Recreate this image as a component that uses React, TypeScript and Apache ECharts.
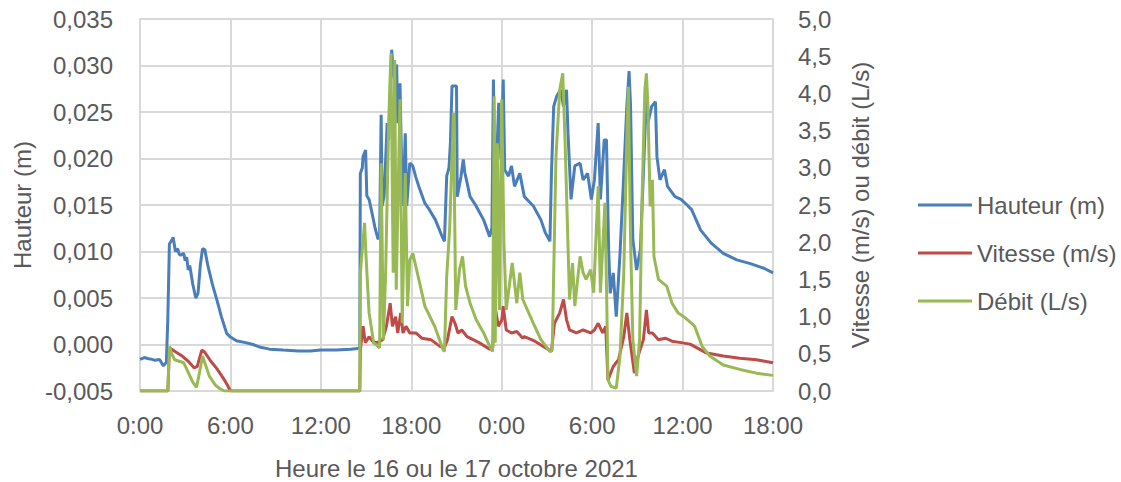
import React, { useEffect, useRef } from "react";
import * as echarts from "echarts";

// Time in hours since 16 Oct 2021 0:00
const hauteurT = [0, 0.3, 0.5, 0.8, 1.0, 1.3, 1.55, 1.75, 1.85, 1.95, 2.1, 2.2, 2.35, 2.5, 2.6, 2.7, 2.9, 3.0, 3.1, 3.2, 3.3, 3.5, 3.7, 3.85, 4.0, 4.15, 4.3, 4.5, 4.8, 5.1, 5.4, 5.75, 6.0, 6.4, 7.0, 7.5, 8.0, 8.6, 9.5, 10.5, 11.3, 12.0, 13.0, 14.0, 14.58,
  14.62, 14.75, 14.8, 14.97, 15.05, 15.2, 15.4, 15.6, 15.8, 15.9, 16.0, 16.07, 16.2, 16.4, 16.5, 16.7, 16.8, 16.9, 17.03, 17.1, 17.25, 17.35, 17.45, 17.6, 17.7, 17.9, 18.1, 18.3, 18.5, 18.9, 19.2, 19.6, 20.0, 20.2,
  20.35, 20.5, 20.6, 20.7, 21.0, 21.05, 21.3, 21.45, 21.55, 21.7, 21.9, 22.3, 22.8, 23.2, 23.35, 23.45, 23.55, 23.8, 23.95, 24.1, 24.2, 24.45, 24.65, 24.85, 25.2, 25.5, 26.1, 26.6, 26.9, 27.2,
  27.3, 27.45, 27.65, 27.9, 28.1, 28.3, 28.4, 28.6, 28.85, 29.2, 29.4, 29.7, 29.95, 30.15, 30.4, 30.55, 30.8, 30.95, 31.1, 31.2, 31.4, 31.6, 31.85, 32.05, 32.3, 32.45, 32.55, 32.7, 32.95, 33.2, 33.4, 33.6, 33.7, 33.95, 34.2, 34.3, 34.5, 34.8, 35.0, 35.5, 35.9, 36.3, 36.6, 37.2, 37.9, 38.7, 39.6, 40.5, 41.4, 42.0];
const hauteurV = [-0.0016, -0.0014, -0.0015, -0.0016, -0.0017, -0.0016, -0.0023, -0.0019, 0.003, 0.0108, 0.0112, 0.0115, 0.01, 0.0103, 0.0097, 0.0096, 0.0098, 0.009, 0.0094, 0.008, 0.0085, 0.0065, 0.005, 0.0055, 0.0085, 0.0103, 0.0102, 0.0085, 0.0065, 0.0048, 0.003, 0.0012, 0.0008, 0.0004, 0.0002, 0.0, -0.0003, -0.0005, -0.0006, -0.0007, -0.0007, -0.0006, -0.0006, -0.0005, -0.0004,
  0.0184, 0.019, 0.0202, 0.0209, 0.016, 0.0156, 0.0141, 0.0125, 0.0113, 0.0118, 0.0247, 0.0149, 0.016, 0.0238, 0.022, 0.0317, 0.0292, 0.0285, 0.0301, 0.0238, 0.0281, 0.02, 0.0149, 0.0227, 0.0149, 0.0195, 0.0192, 0.018, 0.017, 0.0152, 0.0145, 0.0134, 0.0118, 0.0111,
  0.0181, 0.019, 0.0218, 0.0278, 0.0278, 0.0159, 0.0181, 0.0199, 0.0185, 0.0174, 0.0159, 0.0149, 0.0134, 0.0116, 0.0125, 0.0285, 0.0145, 0.026, 0.02, 0.0285, 0.0188, 0.0181, 0.0192, 0.017, 0.0184, 0.0159, 0.0149, 0.0134, 0.012, 0.0111,
  0.0184, 0.0256, 0.0267, 0.0274, 0.0256, 0.0274, 0.0227, 0.0156, 0.0192, 0.0195, 0.0177, 0.0184, 0.0156, 0.0177, 0.0238, 0.0156, 0.022, 0.022, 0.01, 0.0055, 0.0077, 0.003, 0.0098, 0.0166, 0.0256, 0.0294, 0.0256, 0.0113, 0.008, 0.0102, 0.0184, 0.0267, 0.0238, 0.0256, 0.0261, 0.0202, 0.0177, 0.0188, 0.017, 0.0159, 0.0156, 0.015, 0.0145, 0.0123, 0.0109, 0.0098, 0.0091, 0.0087, 0.0082, 0.0077];

const vitesseT = [0, 1.85, 1.95, 2.1, 2.4, 2.8, 3.2, 3.6, 3.8, 4.1, 4.3, 4.7, 5.1, 5.5, 5.8, 6.0, 14.58,
  14.62, 14.8, 14.95, 15.2, 15.5, 15.9, 16.1, 16.35, 16.6, 16.75, 16.96, 17.1, 17.3, 17.45, 17.65, 17.9, 18.3, 18.7, 19.3, 19.9, 20.2,
  20.4, 20.7, 20.9, 21.1, 21.35, 21.7, 22.5, 23.2, 23.4, 23.55, 23.78, 24.0, 24.1, 24.3, 24.65, 25.0, 25.4, 25.5, 26.2, 26.9, 27.3,
  27.5, 27.85, 28.1, 28.3, 28.5, 28.95, 29.4, 29.9, 30.15, 30.4, 30.7, 30.9, 31.05, 31.4, 31.75, 32.1, 32.3, 32.5, 32.8, 33.05, 33.4, 33.6, 33.75, 34.0, 34.4, 34.85, 35.3, 35.9, 36.5, 37.6, 38.7, 39.8, 40.9, 42.0];
const vitesseV = [0, 0, 0.58, 0.56, 0.52, 0.47, 0.4, 0.31, 0.33, 0.55, 0.52, 0.4, 0.3, 0.18, 0.08, 0, 0,
  0.55, 0.87, 0.65, 0.73, 0.65, 0.66, 0.69, 0.87, 1.18, 0.87, 1.0, 0.78, 1.05, 0.78, 0.87, 0.78, 0.78, 0.71, 0.69, 0.6, 0.58,
  0.69, 1.0, 0.91, 0.78, 0.82, 0.73, 0.65, 0.56, 0.58, 1.14, 0.87, 0.95, 1.14, 0.82, 0.78, 0.8, 0.71, 0.73, 0.67, 0.58, 0.53,
  0.91, 1.05, 1.23, 0.96, 0.82, 0.78, 0.82, 0.78, 0.82, 0.91, 0.78, 0.87, 0.15, 0.33, 0.42, 0.73, 1.05, 0.69, 0.24, 0.47, 0.69, 1.09, 0.78, 0.78, 0.69, 0.71, 0.67, 0.65, 0.63, 0.51, 0.47, 0.44, 0.42, 0.38];

const debitT = [0, 1.85, 1.95, 2.1, 2.3, 2.6, 2.9, 3.2, 3.5, 3.75, 3.95, 4.15, 4.35, 4.6, 5.0, 5.3, 5.6, 14.58,
  14.62, 14.9, 15.0, 15.2, 15.5, 15.9, 16.0, 16.15, 16.3, 16.5, 16.65, 16.8, 16.9, 17.0, 17.25, 17.4, 17.6, 17.75, 17.9, 18.1, 18.5, 18.9, 19.55, 20.1, 20.2,
  20.35, 20.55, 20.8, 20.95, 21.2, 21.4, 21.6, 21.9, 22.3, 22.8, 23.2, 23.4, 23.5, 23.57, 23.7, 23.85, 24.0, 24.15, 24.3, 24.5, 24.7, 25.0, 25.2, 25.4, 26.1, 26.6, 27.2,
  27.35, 27.6, 27.85, 28.05, 28.2, 28.5, 28.7, 28.85, 29.2, 29.4, 29.6, 29.9, 30.1, 30.4, 30.55, 30.85, 30.97, 31.05, 31.25, 31.6, 31.85, 32.1, 32.3, 32.4, 32.55, 32.7, 32.95, 33.15, 33.3, 33.5, 33.6, 33.7, 33.85, 34.0, 34.1, 34.4, 34.7, 34.95, 35.3, 35.7, 36.2, 36.6, 36.8, 37.3, 37.8, 38.7, 39.8, 40.9, 42.0];
const debitV = [0, 0, 0.6, 0.5, 0.42, 0.4, 0.38, 0.25, 0.12, 0.05, 0.25, 0.47, 0.35, 0.2, 0.08, 0.03, 0, 0,
  1.59, 2.26, 1.8, 1.05, 0.65, 0.58, 3.06, 0.69, 1.6, 3.6, 4.54, 1.59, 4.45, 1.36, 3.92, 0.91, 2.93, 1.14, 1.76, 1.85, 1.5, 1.14, 0.87, 0.56, 0.53,
  1.54, 2.2, 3.74, 1.09, 1.63, 1.81, 1.41, 1.18, 0.96, 0.78, 0.6, 0.53, 3.96, 0.65, 3.33, 1.09, 3.92, 1.99, 1.09, 1.41, 1.72, 1.18, 1.59, 1.23, 0.91, 0.69, 0.53,
  0.55, 3.15, 4.05, 4.27, 3.38, 1.23, 1.72, 1.14, 1.81, 1.59, 1.5, 1.63, 1.32, 2.75, 1.32, 2.53, 1.2, 0.15, 0.06, 0.04, 0.47, 1.59, 3.38, 4.09, 2.03, 0.69, 0.2, 0.69, 2.48, 4.05, 4.27, 3.83, 2.48, 2.84, 1.81, 1.5, 1.45, 1.41, 1.18, 1.05, 0.98, 0.91, 0.87, 0.6, 0.47, 0.35, 0.29, 0.24, 0.21];

const seriesNames = ["Hauteur (m)", "Vitesse (m/s)", "Débit (L/s)"];
const seriesColors = ["#4A7EBB", "#BE4B48", "#98B954"];

const zip = (t: number[], v: number[]) => t.map((x, i) => [x, v[i]]);

const FONT = "'Liberation Sans', Arial, sans-serif";
const TXT = "#595959";
const GRID = "#D9D9D9";

export default function App() {
  const ref = useRef<HTMLDivElement>(null);
  useEffect(() => {
    const chart = echarts.init(ref.current!, null, { renderer: "svg" });
    const lineW = 3;
    chart.setOption({
      animation: false,
      backgroundColor: "#ffffff",
      textStyle: { fontFamily: FONT },
      grid: { left: 140, right: 348, top: 19, bottom: 91, outerBoundsMode: "none" },
      legend: {
        orient: "vertical",
        left: 913,
        top: 188,
        icon: "rect",
        itemWidth: 54,
        itemHeight: 3,
        itemGap: 24,
        textStyle: { fontSize: 24, color: TXT, fontFamily: FONT, lineHeight: 24 },
        data: seriesNames,
      },
      xAxis: {
        type: "value",
        min: 0,
        max: 42,
        interval: 6,
        name: "Heure le 16 ou le 17 octobre 2021",
        nameLocation: "middle",
        nameGap: 65,
        nameTextStyle: { fontSize: 24, color: TXT, fontFamily: FONT },
        axisLine: { show: true, lineStyle: { color: GRID, width: 2 } },
        axisTick: { show: true, length: 6, lineStyle: { color: GRID, width: 2 } },
        axisLabel: { color: TXT, fontSize: 24, fontFamily: FONT, margin: 22, formatter: (v: number) => `${v % 24}:00` },
        splitLine: { show: true, lineStyle: { color: GRID, width: 2 } },
      },
      yAxis: [
        {
          type: "value",
          min: -0.005,
          max: 0.035,
          interval: 0.005,
          name: "Hauteur (m)",
          nameLocation: "middle",
          nameRotate: 90,
          nameGap: 103,
          nameTextStyle: { fontSize: 24, color: TXT, fontFamily: FONT },
          axisLine: { show: true, lineStyle: { color: GRID, width: 2 } },
          axisTick: { show: false },
          axisLabel: { color: TXT, fontSize: 24, fontFamily: FONT, margin: 27, formatter: (v: number) => v.toFixed(3).replace(".", ",") },
          splitLine: { show: true, lineStyle: { color: GRID, width: 2 } },
        },
        {
          type: "value",
          min: 0,
          max: 5,
          interval: 0.5,
          position: "right",
          name: "Vitesse (m/s) ou débit (L/s)",
          nameLocation: "middle",
          nameRotate: 90,
          nameGap: 75,
          nameTextStyle: { fontSize: 24, color: TXT, fontFamily: FONT },
          axisLine: { show: true, lineStyle: { color: GRID, width: 2 } },
          axisTick: { show: false },
          axisLabel: { color: TXT, fontSize: 24, fontFamily: FONT, margin: 25, formatter: (v: number) => v.toFixed(1).replace(".", ",") },
          splitLine: { show: false },
        },
      ],
      series: [
        { name: seriesNames[0], type: "line", yAxisIndex: 0, data: zip(hauteurT, hauteurV), symbol: "none", color: seriesColors[0], lineStyle: { width: lineW, color: seriesColors[0] } },
        { name: seriesNames[1], type: "line", yAxisIndex: 1, data: zip(vitesseT, vitesseV), symbol: "none", color: seriesColors[1], lineStyle: { width: lineW, color: seriesColors[1] } },
        { name: seriesNames[2], type: "line", yAxisIndex: 1, data: zip(debitT, debitV), symbol: "none", color: seriesColors[2], lineStyle: { width: lineW, color: seriesColors[2] } },
      ],
    });
    return () => chart.dispose();
  }, []);
  return <div ref={ref} style={{ position: "fixed", left: 0, top: 0, width: 1121, height: 482, background: "#fff" }} />;
}
